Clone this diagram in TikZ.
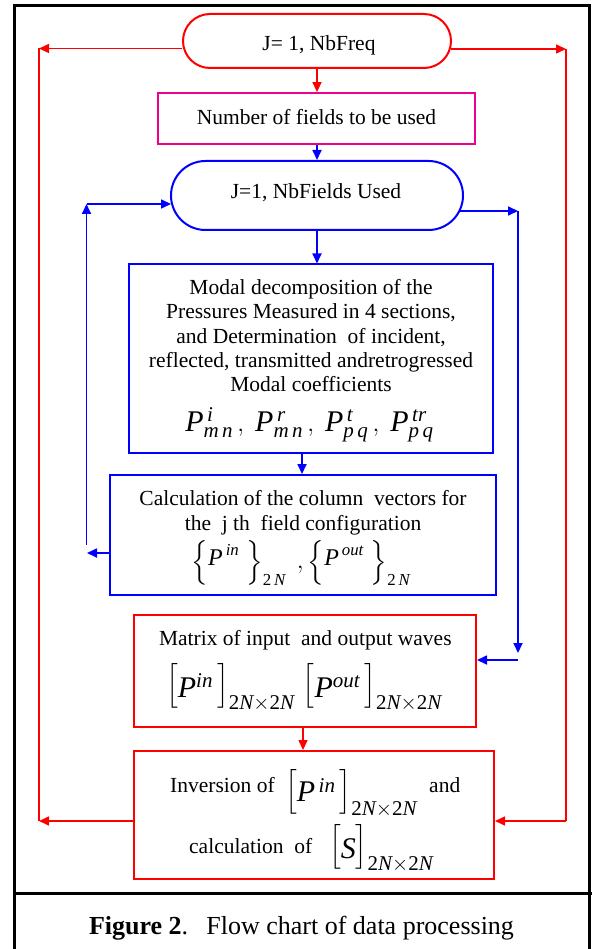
\documentclass[tikz,border=0pt]{standalone}
\usepackage{amsmath}
\usepackage{fontspec}
\setmainfont{Liberation Serif}
\usetikzlibrary{arrows.meta,calc}
\newcommand\mi[1]{\mathit{#1}}
\newcommand\dm{\mathrm{2}\mi{N}\times\mathrm{2}\mi{N}}
\newcommand\bkt[2]{\left[\rule[-11.4pt]{0pt}{35.2pt}\lower#1\hbox{$#2$}\,\right]}
\newcommand\brc[1]{\left\{\rule[-10.5pt]{0pt}{33.5pt}\raise3.7pt\hbox{$#1$}\;\right\}}
\begin{document}
\begin{tikzpicture}[x=1pt,y=-1pt,
  every node/.style={inner sep=0pt},
  txt/.style={anchor=base, font=\fontsize{21.5}{24}\selectfont},
  mth/.style={anchor=base, font=\fontsize{30}{32}\selectfont},
  arr/.style={-{Triangle[length=10pt,width=9pt]}},
  rline/.style={draw=red, line width=1.5pt},
  rthin/.style={draw=red, line width=1.3pt},
  bline/.style={draw=blue, line width=1.7pt},
  rbox/.style={draw=red, line width=2pt},
  bbox/.style={draw=blue, line width=2pt},
  frame/.style={draw=black, line width=3.2pt}]
\useasboundingbox (0,0) rectangle (592,949);
% frame
\draw[frame] (14.3,960) -- (14.3,5.5) -- (589.5,5.5) -- (589.5,960);
\draw[frame] (14.3,893.5) -- (592,893.5);
% boxes
\node[rbox, minimum width=268pt, minimum height=54pt, rounded corners=27pt] (f1) at (317,41) {};
\node[draw=magenta, line width=1.8pt, minimum width=317pt, minimum height=51pt] (nf) at (316.5,118.5) {};
\node[bbox, minimum width=292pt, minimum height=69pt, rounded corners=34.5pt] (f2) at (317,195.5) {};
\node[bbox, minimum width=364pt, minimum height=188.5pt] (md) at (311,358.75) {};
\node[bbox, minimum width=386pt, minimum height=120pt] (cv) at (303,535) {};
\node[rbox, minimum width=342pt, minimum height=112pt] (mx) at (305,671) {};
\node[rbox, minimum width=360pt, minimum height=128pt] (inv) at (314,815) {};
% texts
\node[txt] (t1) at (319,50.7) {J= 1, NbFreq};
\node[txt] (t2) at (316.5,124.3) {Number of fields to be used};
\node[txt] (t3) at (316,198.3) {J=1, NbFields Used};
\node[txt] (m1) at (311,294.3) {Modal decomposition of the};
\node[txt] (m2) at (311,318.7) {Pressures Measured in 4 sections,};
\node[txt] (m3) at (311,343.1) {and Determination\ \ of incident,};
\node[txt] (m4) at (311,367.5) {reflected, transmitted andretrogressed};
\node[txt] (m5) at (311,391.9) {Modal coefficients};
\node[mth] (m6) at (309.5,431) {$\mi{P}^{\,\mi{i}}_{\mi{m\,n}}\,,\; \mi{P}^{\,\mi{r}}_{\mi{m\,n}}\,,\; \mi{P}^{\,\mi{t}}_{\mi{p\,q}}\,,\; \mi{P}^{\,\mi{tr}}_{\mi{p\,q}}$};
\node[txt] (c1) at (303,505) {Calculation of the column\ \ vectors for};
\node[txt] (c2) at (303,530) {the\ \ j th\ \ field configuration};
\node[mth, font=\fontsize{24}{26}\selectfont] (c3) at (301,568.7) {$\brc{\mi{P}^{\,\mi{in}}}_{\mathrm{2}\,\mi{N}}\;,\brc{\mi{P}^{\,\mi{out}}}_{\mathrm{2}\,\mi{N}}$};
\node[txt] (x1) at (305.3,645) {Matrix of input\ \ and output waves};
\node[mth] (x2) at (304,692) {$\bkt{5pt}{\mi{P}^{\mi{in}}}_{\dm}\,\bkt{5pt}{\mi{P}^{\mi{out}}}_{\dm}$};
\node[txt, anchor=base west] (i1) at (170,792) {Inversion of};
\node[mth, anchor=base west] (i2) at (285,798.4) {$\bkt{2.65pt}{\mi{P}^{\,\mi{in}}}_{\dm}$};
\node[txt, anchor=base west] (i3) at (429,792) {and};
\node[txt, anchor=base west] (i4) at (189,853) {calculation\ \ of};
\node[mth, anchor=base west] (i5) at (329,853.4) {$\left[\rule[-11.4pt]{0pt}{35.2pt}\lower4.65pt\hbox{$\mi{S}$}\right]_{\dm}$};
\node[anchor=base, font=\fontsize{26}{28}\selectfont] (cap) at (301.5,934.5) {\textbf{Figure 2}.\hspace{0.7em}Flow chart of data processing};
% coordinates
\coordinate (rl1) at (39,48.5);
\coordinate (rl2) at (39,821);
\coordinate (rr1) at (566,49);
\coordinate (rr2) at (566,821);
\coordinate (bl1) at (87,553);
\coordinate (bl2) at (86.5,545);
\coordinate (bl3) at (86.5,204);
\coordinate (br1) at (518,211);
\coordinate (br2) at (518,653);
\coordinate (br3) at (518,660);
% red connectors
\draw[rline,arr] (f1.west |- rl1) -- (rl1);
\draw[rline,arr] ([xshift=-1pt]f1.east |- rr1) -- (rr1);
\draw[rthin] (rl1) -- (rl2);
\draw[rthin] (rr1) -- (rr2);
\draw[rline,arr] (inv.west |- rl2) -- (rl2);
\draw[rline,arr] (rr2) -- (inv.east |- rr2);
\draw[rline,arr] (f1.south) -- (nf.north -| f1.south);
\draw[rline,arr] (mx.south -| cv.north) -- (inv.north -| cv.north);
% blue connectors
\draw[bline,arr] (nf.south -| f2.north) -- (f2.north);
\draw[bline,arr] (f2.south) -- (f2.south |- md.north);
\draw[bline,arr] ([xshift=-9pt]md.south) -- ([xshift=-9pt]md.south |- cv.north);
\draw[bline,arr] (cv.west |- bl1) -- (bl1);
\draw[bline,arr] (bl2) -- (bl3);
\draw[bline,arr] (bl3) -- ([xshift=1pt]bl3 -| f2.west);
\draw[bline,arr] ([xshift=-4pt]f2.east |- br1) -- (br1);
\draw[bline,arr] (br1) -- (br2);
\draw[bline,arr] (br3) -- (br3 -| mx.east);
\end{tikzpicture}
\end{document}
